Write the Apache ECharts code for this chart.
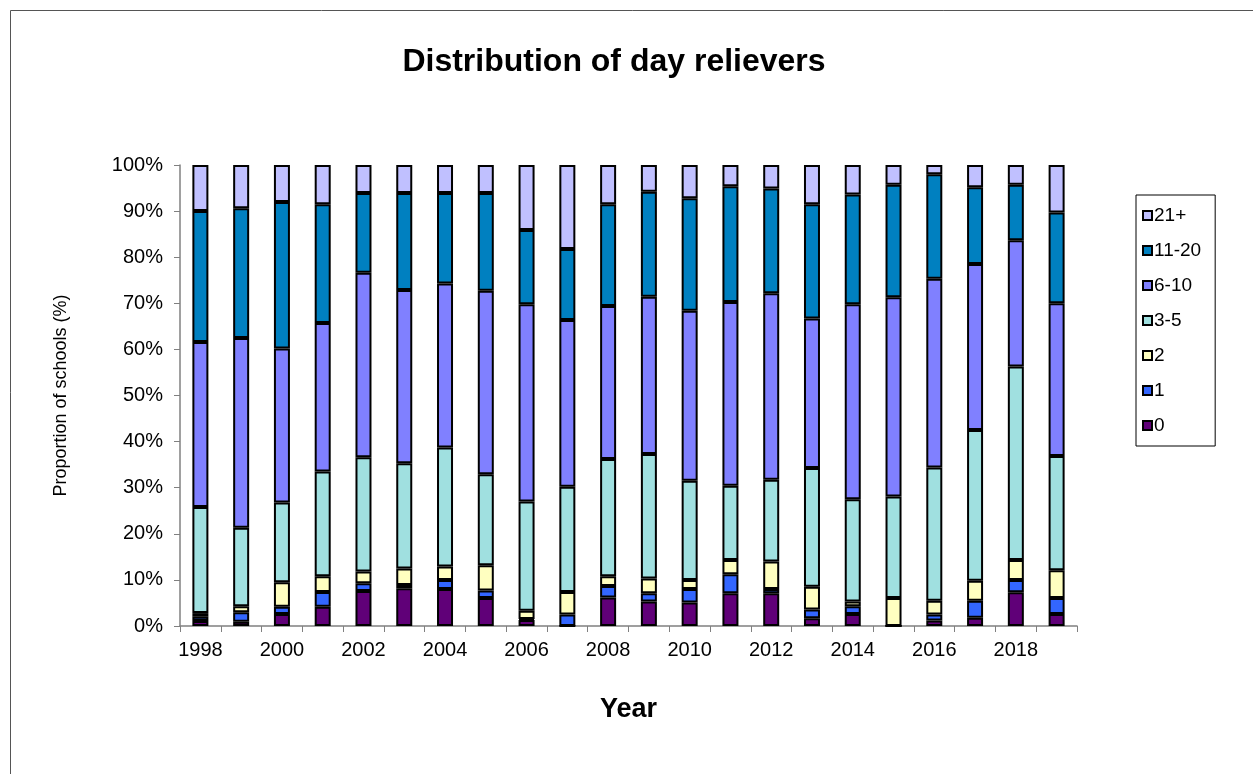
<!DOCTYPE html>
<html>
<head>
<meta charset="utf-8">
<script src="https://cdn.jsdelivr.net/npm/echarts@6/dist/echarts.min.js"></script>
<style>html,body{margin:0;padding:0;background:#fff;}#c{width:1253px;height:774px;}</style>
</head>
<body>
<div id="c"></div>
<script>
const years = ['1998','1999','2000','2001','2002','2003','2004','2005','2006','2007','2008','2009','2010','2011','2012','2013','2014','2015','2016','2017','2018','2019'];
const s0    = [1.1,0.9,2.6,4.2,7.6,8.2,8.0,6.1,1.3,0.0,6.2,5.3,5.1,7.1,7.1,1.7,2.6,0.0,1.2,1.8,7.3,2.6];
const s1    = [0.9,2.1,1.6,3.2,1.7,0.7,2.0,1.6,0.2,2.5,2.5,1.8,2.9,4.1,0.9,1.9,1.7,0.0,1.3,3.7,2.7,3.5];
const s2    = [0.8,1.3,5.3,3.4,2.5,3.6,2.9,5.5,1.8,4.9,2.1,3.2,2.0,3.1,6.0,4.9,1.0,6.1,3.0,4.3,4.3,6.0];
const s3_5  = [23.0,17.0,17.3,22.7,24.8,22.8,25.8,19.7,23.7,22.8,25.4,27.0,21.5,16.1,17.7,25.8,22.2,22.0,28.9,32.7,42.0,24.8];
const s6_10 = [35.8,41.2,33.4,32.2,40.0,37.6,35.6,39.8,42.8,36.2,33.2,34.1,36.9,39.9,40.5,32.4,42.3,43.2,40.9,36.0,27.4,33.1];
const s11_20= [28.4,28.1,31.8,25.8,17.3,21.0,19.6,21.2,16.1,15.4,22.1,22.8,24.4,25.1,22.7,24.8,23.8,24.4,22.7,16.7,12.0,19.7];
const s21   = [10.0,9.4,8.0,8.5,6.1,6.1,6.1,6.1,14.1,18.2,8.5,5.8,7.2,4.6,5.1,8.5,6.4,4.3,2.0,4.8,4.3,10.3];
const yTicks = ['0%','10%','20%','30%','40%','50%','60%','70%','80%','90%','100%'];

const seriesNames = ['0','1','2','3-5','6-10','11-20','21+'];
const seriesData = [s0,s1,s2,s3_5,s6_10,s11_20,s21];
const colors = ['#600078','#3366FF','#FFFFC0','#A0E0E0','#8080FF','#0080C0','#C0C0FF'];

const chart = echarts.init(document.getElementById('c'), null, {renderer:'canvas'});
const font = 'Arial, "Liberation Sans", sans-serif';
chart.setOption({
  animation: false,
  backgroundColor: '#fff',
  title: {
    text: 'Distribution of day relievers',
    left: 609, textAlign: 'center', top: 41,
    textStyle: {fontFamily: font, fontSize: 32, fontWeight: 'bold', color: '#000'}
  },
  graphic: [{
    type: 'rect', shape: {x: 10.5, y: 10.5, width: 1260, height: 780},
    style: {fill: 'none', stroke: '#555', lineWidth: 1}, silent: true
  }],
  legend: {
    orient: 'vertical', left: 1136, top: 195,
    data: seriesNames.slice().reverse(),
    itemWidth: 9, itemHeight: 9, itemGap: 16,
    padding: [11, 14, 11, 6],
    borderColor: '#000', borderWidth: 1,
    icon: 'rect',
    textStyle: {fontFamily: font, fontSize: 19, color: '#000', padding: [0,0,0,-3]}
  },
  grid: {left: 180, right: 176, top: 165, bottom: 148},
  xAxis: {
    type: 'category', data: years,
    name: 'Year', nameLocation: 'middle', nameGap: 70,
    nameTextStyle: {fontFamily: font, fontSize: 27, fontWeight: 'bold', color: '#000'},
    axisLine: {lineStyle: {color: '#808080', width: 1.5}},
    axisTick: {show: true, length: 6, alignWithLabel: false, interval: 0, lineStyle: {color: '#808080'}},
    axisLabel: {interval: 1, fontFamily: font, fontSize: 20, color: '#000', margin: 14}
  },
  yAxis: {
    type: 'value', min: 0, max: 100, interval: 10,
    name: 'Proportion of schools (%)', nameLocation: 'middle', nameGap: 110, nameRotate: 90,
    nameTextStyle: {fontFamily: font, fontSize: 18, color: '#000'},
    axisLine: {show: true, lineStyle: {color: '#808080', width: 1.5}},
    axisTick: {show: true, length: 6, lineStyle: {color: '#808080'}},
    splitLine: {show: false},
    axisLabel: {fontFamily: font, fontSize: 20, color: '#000', margin: 17,
      formatter: function(v){ return yTicks[Math.round(v/10)]; }}
  },
  series: seriesNames.map(function(n, i){
    return {
      name: n, type: 'bar', stack: 'all', data: seriesData[i],
      barWidth: 16,
      itemStyle: {color: colors[i], borderColor: '#000', borderWidth: 2}
    };
  })
});
</script>
</body>
</html>
